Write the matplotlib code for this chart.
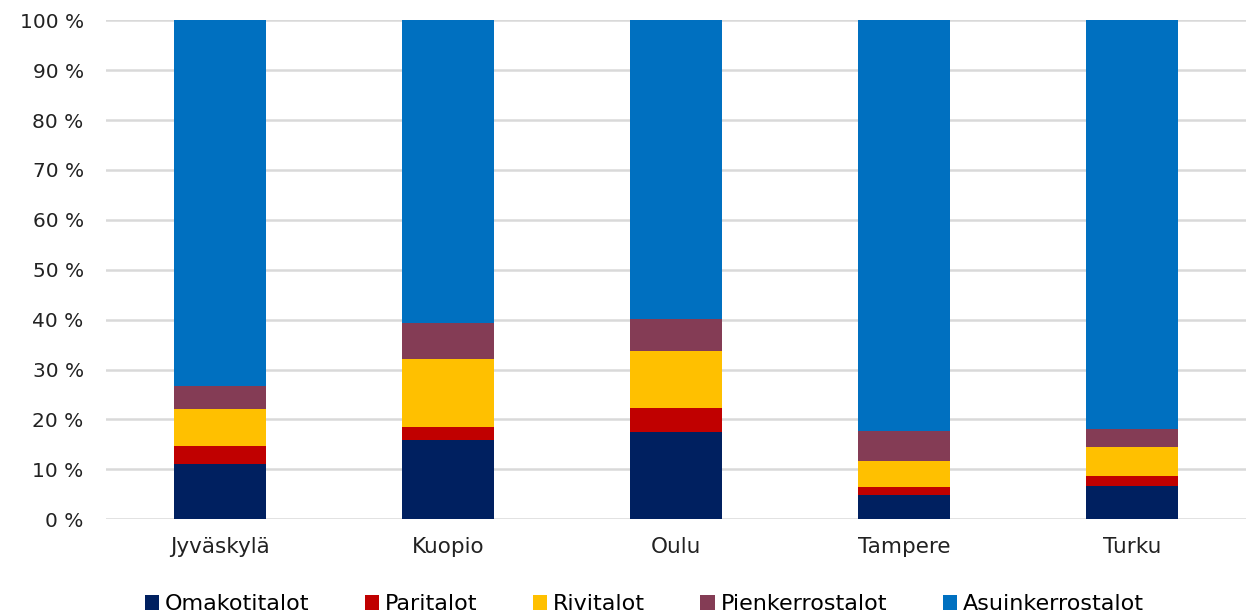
import matplotlib.pyplot as plt
from matplotlib.patches import Patch
from matplotlib.ticker import FuncFormatter

plt.rcParams['font.family'] = ['DejaVu Sans']

# Asuntotuotannon jakauma talotyypeittäin (%)
kaupungit = ["Jyväskylä", "Kuopio", "Oulu", "Tampere", "Turku"]
omakotitalot = [11.0, 15.8, 17.5, 4.9, 6.6]
paritalot = [3.6, 2.6, 4.8, 1.6, 2.1]
rivitalot = [7.5, 13.8, 11.4, 5.2, 5.8]
pienkerrostalot = [4.6, 7.1, 6.5, 5.9, 3.6]
asuinkerrostalot = [73.3, 60.7, 59.8, 82.4, 81.9]

sarjat = [
    ("Omakotitalot", omakotitalot, "#002060"),
    ("Paritalot", paritalot, "#C00000"),
    ("Rivitalot", rivitalot, "#FFC000"),
    ("Pienkerrostalot", pienkerrostalot, "#843C55"),
    ("Asuinkerrostalot", asuinkerrostalot, "#0070C0"),
]

fig = plt.figure(figsize=(12.46, 6.13), dpi=100)
ax = fig.add_axes([0.085, 0.153, 0.915, 0.814])

x = range(len(kaupungit))
pohja = [0.0] * len(kaupungit)
for nimi, arvot, vari in sarjat:
    ax.bar(x, arvot, bottom=pohja, width=0.4, color=vari, label=nimi, zorder=3)
    pohja = [p + a for p, a in zip(pohja, arvot)]

ax.set_xlim(-0.5, len(kaupungit) - 0.5)
ax.set_ylim(0, 100)
ax.set_yticks(range(0, 101, 10))
ax.yaxis.set_major_formatter(FuncFormatter(lambda v, _: f"{v:.0f} %"))
ax.set_xticks(list(x))
ax.set_xticklabels(kaupungit)
ax.tick_params(axis='both', length=0, labelsize=14.5, colors="#222222")
ax.tick_params(axis='x', labelsize=15.5, pad=13)
ax.tick_params(axis='y', pad=16)

ax.grid(axis='y', color="#d9d9d9", linewidth=1.8, zorder=0)
for s in ax.spines.values():
    s.set_visible(False)

kahvat = [Patch(facecolor=vari, label=nimi) for nimi, _, vari in sarjat]
fig.legend(handles=kahvat, loc='lower center', bbox_to_anchor=(0.517, -0.035),
           ncol=5, frameon=False, fontsize=16, handlelength=0.65,
           handleheight=0.65, handletextpad=0.25, columnspacing=2.5)

fig.savefig("out.png", dpi=100)
